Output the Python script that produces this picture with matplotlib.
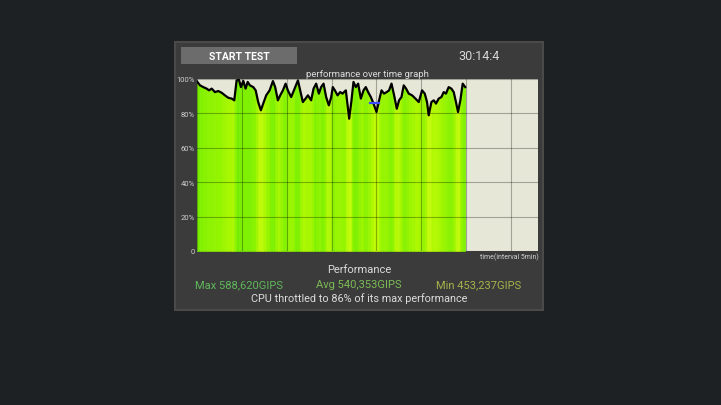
import numpy as np
import matplotlib
matplotlib.use("Agg")
import matplotlib.pyplot as plt
from matplotlib.patches import Rectangle
from matplotlib.colors import LinearSegmentedColormap, Normalize

plt.rcParams['font.family'] = ['Roboto', 'DejaVu Sans']

# ---- data ----
time_min = [0.00, 0.37, 0.73, 1.11, 1.37, 1.67, 2.03, 2.40, 2.78, 3.14, 3.51, 3.89, 4.18,
            4.44, 4.70, 4.92, 5.18, 5.44, 5.67, 5.92, 6.29, 6.56, 6.84, 7.14, 7.40, 7.73,
            8.11, 8.48, 8.73, 9.03, 9.29, 9.59, 9.89, 10.14, 10.51, 10.89, 11.26, 11.51,
            11.81, 12.11, 12.37, 12.73, 13.00, 13.29, 13.59, 13.84, 14.11, 14.40, 14.70,
            14.96, 15.14, 15.37, 15.67, 15.96, 16.22, 16.59, 16.96, 17.22, 17.44, 17.70,
            17.96, 18.26, 18.56, 18.81, 19.07, 19.37, 19.67, 20.00, 20.29, 20.56, 20.84,
            21.14, 21.40, 21.67, 21.96, 22.26, 22.51, 22.78, 23.03, 23.29, 23.59, 23.96,
            24.33, 24.70, 25.07, 25.37, 25.62, 25.81, 26.11, 26.37, 26.62, 26.92, 27.22,
            27.48, 27.73, 28.03, 28.33, 28.59, 28.84, 29.07, 29.33, 29.59, 29.87]
perf_pct = [98.8, 96.3, 95.3, 94.4, 93.4, 94.4, 92.4, 93.0, 92.0, 90.5, 89.1, 88.6, 87.6,
            99.2, 99.6, 95.3, 98.9, 94.4, 98.3, 96.3, 95.3, 93.4, 86.6, 81.8, 85.7, 90.5,
            93.4, 98.8, 95.3, 87.6, 90.5, 93.4, 97.3, 93.4, 89.5, 94.4, 99.2, 93.4,
            86.6, 88.6, 90.5, 87.6, 94.4, 97.3, 91.5, 95.3, 97.3, 89.5, 84.7,
            89.5, 95.3, 93.4, 90.5, 92.4, 91.5, 93.4, 76.9, 87.6, 98.3, 95.3,
            97.3, 88.6, 93.4, 95.3, 92.4, 89.5, 85.7, 80.8, 87.6, 93.4, 91.5,
            92.4, 93.4, 97.3, 90.5, 82.7, 87.6, 89.5, 96.3, 94.4, 91.5, 90.5,
            88.6, 86.6, 93.4, 91.5, 86.6, 78.9, 86.6, 87.6, 85.7, 88.6, 89.5,
            92.4, 91.5, 95.3, 94.4, 92.4, 86.6, 80.8, 87.6, 97.3, 95.3]
marker_t = [19.3, 20.3]
marker_v = [86.0, 86.0]

y_ticks = [0, 20, 40, 60, 80, 100]
y_tick_labels = ['0', '20%', '40%', '60%', '80%', '100%']
x_ticks = [0, 5, 10, 15, 20, 25, 30, 35]
x_max = 38.0

header_title = "performance over time graph"
button_text = "START TEST"
timer_text = "30:14:4"
x_label = "time(interval 5min)"
stats_title = "Performance"
stat_max = "Max 588,620GIPS"
stat_avg = "Avg 540,353GIPS"
stat_min = "Min 453,237GIPS"
summary = "CPU throttled to 86% of its max performance"

# ---- figure ----
W, H = 721, 406
fig = plt.figure(figsize=(W / 100, H / 100), dpi=100)
fig.patch.set_facecolor('#1e2124')

def fx(x):
    return x / W

def fy(y):
    return 1 - y / H

# panel
fig.patches.append(Rectangle((fx(175), fy(311)), 368 / W, 268 / H, transform=fig.transFigure,
                             fc='#3b3b3b', ec='#4a4a4a', lw=1.5, zorder=-3))
# button
fig.patches.append(Rectangle((fx(181), fy(65)), 116 / W, 17 / H, transform=fig.transFigure,
                             fc='#6c6c6c', ec='none', zorder=-2))
fig.text(fx(239), fy(57), button_text, color='white', fontsize=7.5, fontweight='bold',
         ha='center', va='center')
fig.text(fx(479), fy(56), timer_text, color='#d8d8d8', fontsize=9, ha='center', va='center')
fig.text(fx(367), fy(75), header_title, color='#dcdcdc', fontsize=6.8, ha='center', va='center')

# axes
ax = fig.add_axes([fx(196.7), fy(252), 341.6 / W, 172 / H])
ax.set_zorder(1)
ax.set_facecolor('#e7e7d8')
ax.set_xlim(0, x_max)
ax.set_ylim(0, 100)
for s in ax.spines.values():
    s.set_visible(False)

cmap = LinearSegmentedColormap.from_list('gy', ['#dcff14', '#aaf800', '#6cee00'])
norm = Normalize(vmin=77, vmax=100)
t = np.array(time_min)
v = np.array(perf_pct)
for i in range(len(t) - 1):
    c = cmap(norm((v[i] + v[i + 1]) / 2))
    ax.fill_between(t[i:i + 2], 0, v[i:i + 2], facecolor=c, edgecolor=c, lw=0.4,
                    antialiased=False, zorder=1)

ax.set_yticks(y_ticks)
ax.set_yticklabels(y_tick_labels)
ax.set_xticks(x_ticks)
ax.set_xticklabels([])
ax.tick_params(axis='both', length=0, pad=1.5, labelsize=5.5, labelcolor='#cfcfcf')
ax.grid(True, color='black', alpha=0.3, lw=0.8, zorder=2)
ax.set_axisbelow(False)

ax.plot(t, v, color='black', lw=1.6, zorder=4, solid_joinstyle='round')
ax.plot(marker_t, marker_v, color='#3b4cff', lw=1.6, zorder=5)

fig.text(fx(539), fy(257), x_label, color='#d0d0d0', fontsize=5, ha='right', va='center')

fig.text(fx(359), fy(273), stats_title, color='#dcdcdc', fontsize=8, ha='center', va='baseline')
fig.text(fx(239), fy(288), stat_max, color='#5fb85a', fontsize=8, ha='center', va='baseline')
fig.text(fx(359), fy(288), stat_avg, color='#7cbb55', fontsize=8, ha='center', va='baseline')
fig.text(fx(479), fy(288), stat_min, color='#a8b34a', fontsize=8, ha='center', va='baseline')
fig.text(fx(359), fy(302), summary, color='#dcdcdc', fontsize=7.8, ha='center', va='baseline')

fig.savefig('out.png', dpi=100, facecolor=fig.get_facecolor())
